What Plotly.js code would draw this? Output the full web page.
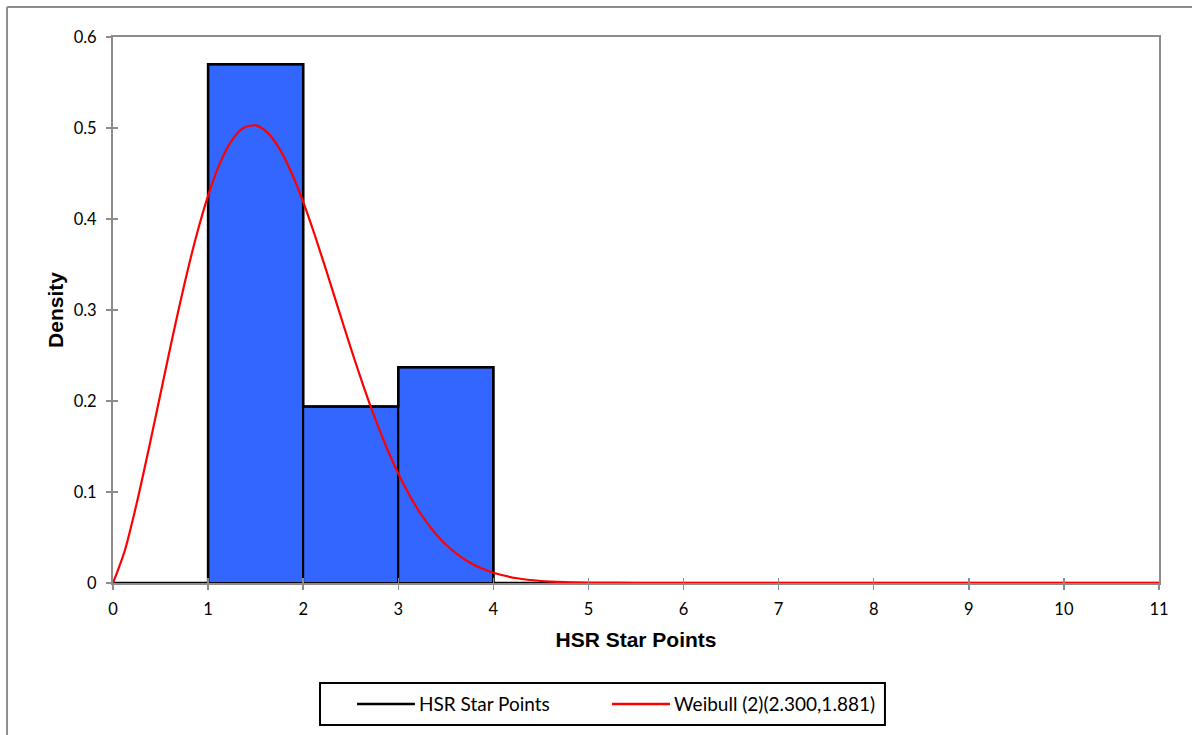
<!DOCTYPE html>
<html>
<head>
<meta charset="utf-8">
<script src="https://cdn.plot.ly/plotly-3.0.1.min.js"></script>
<style>html,body{margin:0;padding:0;background:#fff;}#chart{width:1192px;height:735px;}</style>
</head>
<body>
<div id="chart"></div>
<script>
// Histogram bin edges and densities
var binEdges = [0, 1, 2, 3, 4, 11];
var binDensity = [0, 0.57, 0.194, 0.237, 0];

// Fitted Weibull curve
var curveX = [0, 0.05, 0.125, 0.25, 0.375, 0.5, 0.625, 0.75, 0.875, 1.0, 1.125, 1.25, 1.375, 1.5, 1.625, 1.75, 1.875, 2.0, 2.125, 2.25, 2.375, 2.5, 2.625, 2.75, 2.875, 3.0, 3.125, 3.25, 3.375, 3.5, 3.625, 3.75, 3.875, 4.0, 4.25, 4.5, 4.75, 5.0, 5.5, 6, 7, 8, 9, 10, 11];
var curveY = [0, 0.0135, 0.036, 0.0878, 0.1467, 0.2083, 0.2697, 0.328, 0.3808, 0.4257, 0.4614, 0.4864, 0.5002, 0.5029, 0.4949, 0.4773, 0.4513, 0.4187, 0.3813, 0.341, 0.2996, 0.2584, 0.2192, 0.1825, 0.1495, 0.1203, 0.0951, 0.0739, 0.0564, 0.0423, 0.0312, 0.0226, 0.0161, 0.0112, 0.0052, 0.0022, 0.0009, 0.0003, 0.00002, 0, 0, 0, 0, 0, 0];

var xTicks = [0,1,2,3,4,5,6,7,8,9,10,11];
var yTicks = [0,0.1,0.2,0.3,0.4,0.5,0.6];
var yTickText = ['0','0.1','0.2','0.3','0.4','0.5','0.6'];

var seriesNames = ['HSR Star Points', 'Weibull (2)(2.300,1.881)'];
var seriesColors = ['#000000', '#FF0000'];

// bars from bin edges
var barX = [], barW = [], barY = [];
for (var i = 0; i < binDensity.length; i++) {
  if (binDensity[i] > 0) {
    barX.push((binEdges[i] + binEdges[i+1]) / 2);
    barW.push(binEdges[i+1] - binEdges[i]);
    barY.push(binDensity[i]);
  }
}
// outline step line
var stepX = [], stepY = [];
for (var j = 0; j < binDensity.length; j++) {
  stepX.push(binEdges[j], binEdges[j+1]);
  stepY.push(binDensity[j], binDensity[j]);
}

var traces = [
  {type:'bar', x:barX, y:barY, width:barW, marker:{color:'#3366FF', line:{color:'#000', width:2}}, showlegend:false, hoverinfo:'skip'},
  {type:'scatter', mode:'lines', x:stepX, y:stepY, name:seriesNames[0], line:{color:seriesColors[0], width:2.5, shape:'linear'}},
  {type:'scatter', mode:'lines', x:curveX, y:curveY, name:seriesNames[1], line:{color:seriesColors[1], width:2.2, shape:'spline', smoothing:0.8}}
];

var tickFont = {family:'Lato, "Open Sans", sans-serif', size:16.5, color:'#000'};
var legendFont = {family:'Lato, "Open Sans", sans-serif', size:19, color:'#000'};
var grey = '#8c8c8c';
var titleFont = {family:'"Liberation Sans", Arial, sans-serif', size:21, color:'#000', weight:'bold'};

// legend box drawn as shapes + annotations (paper coords)
var legY = -0.2216;
var legItems = [
  {x0:0.2333, x1:0.2887, tx:0.2906},
  {x0:0.4771, x1:0.5325, tx:0.5344}
];
var shapes = [
  {type:'line', xref:'paper', yref:'paper', x0:-0.1013, x1:1.2, y0:1.0549, y1:1.0549, line:{color:grey, width:2}},
  {type:'line', xref:'paper', yref:'paper', x0:-0.1013, x1:-0.1013, y0:1.0549, y1:-0.5, line:{color:grey, width:2}},
  {type:'rect', xref:'paper', yref:'paper', x0:0.1979, x1:0.7380, y0:-0.2601, y1:-0.1832, line:{color:'#000', width:2}, fillcolor:'#fff'}
];
var annotations = [];
legItems.forEach(function(it, k){
  shapes.push({type:'line', xref:'paper', yref:'paper', x0:it.x0, x1:it.x1, y0:legY, y1:legY, line:{color:seriesColors[k], width:2.5}});
  annotations.push({xref:'paper', yref:'paper', x:it.tx, y:legY, xanchor:'left', yanchor:'middle', text:seriesNames[k], showarrow:false, font:legendFont});
});

var layout = {
  width:1192, height:735,
  margin:{l:113, r:33, t:37, b:152},
  paper_bgcolor:'#fff', plot_bgcolor:'#fff',
  bargap:0,
  showlegend:false,
  xaxis:{range:[0,11], tickvals:xTicks, ticktext:xTicks.map(String), ticks:'outside', ticklen:5, tickwidth:1.5, tickcolor:grey,
    ticklabelstandoff:5,
    showline:true, linecolor:grey, linewidth:2, mirror:true, showgrid:false, zeroline:false, tickfont:tickFont,
    title:{text:'HSR Star Points', font:titleFont, standoff:15}},
  yaxis:{range:[0,0.6], tickvals:yTicks, ticktext:yTickText, ticks:'outside', ticklen:5, tickwidth:1.5, tickcolor:grey,
    ticklabelstandoff:6,
    showline:true, linecolor:grey, linewidth:2, mirror:true, showgrid:false, zeroline:false, tickfont:tickFont,
    title:{text:'Density', font:titleFont, standoff:4}},
  xaxis2:{overlaying:'x', matches:'x', range:[0,11], tickvals:xTicks, ticks:'inside', ticklen:5, tickwidth:1.5, tickcolor:grey, showticklabels:false, showline:false, showgrid:false, zeroline:false},
  yaxis2:{overlaying:'y', matches:'y', range:[0,0.6], tickvals:yTicks, ticks:'inside', ticklen:5, tickwidth:1.5, tickcolor:grey, showticklabels:false, showline:false, showgrid:false, zeroline:false},
  shapes:shapes,
  annotations:annotations
};
// dummy trace to make overlay axes render
traces.push({type:'scatter', x:[0], y:[0], xaxis:'x2', yaxis:'y2', mode:'markers', marker:{opacity:0}, showlegend:false, hoverinfo:'skip'});

Plotly.newPlot('chart', traces, layout, {displayModeBar:false, staticPlot:true});
</script>
</body>
</html>
